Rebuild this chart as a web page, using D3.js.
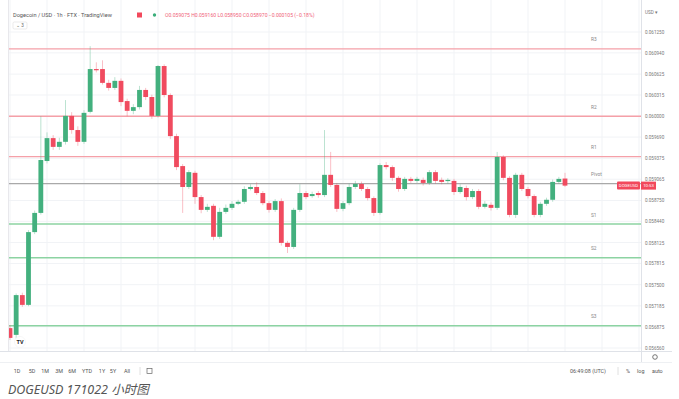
<!DOCTYPE html>
<html>
<head>
<meta charset="utf-8">
<script src="https://cdn.jsdelivr.net/npm/d3@7"></script>
<style>
body { margin: 0; background: #fff; }
svg { display: block; font-family: Roboto, "Open Sans", sans-serif; }
</style>
</head>
<body>
<script>
// 1時間足 DOGEUSD (2022-10-13 12:00 UTC から)
var startTime = Date.UTC(2022, 9, 13, 12);

var open = [
0.056855,0.056755,0.057345,0.057200,0.058280,0.058565,0.059335,0.059675,0.059545,0.059620,
0.060005,0.059795,0.059620,0.060065,0.060700,0.060700,0.060495,0.060420,0.060525,0.060225,
0.060080,0.060135,0.060390,0.060285,0.060005,0.060745,0.060315,0.059705,0.059260,0.058950,
0.059160,0.058800,0.058610,0.058670,0.058210,0.058580,0.058640,0.058700,0.058730,0.058920,
0.058950,0.058860,0.058710,0.058610,0.058740,0.058120,0.058060,0.058610,0.058860,0.058815,
0.058860,0.058830,0.059130,0.058980,0.058625,0.058710,0.058950,0.058995,0.058920,0.058785,
0.058565,0.059275,0.059245,0.059085,0.058920,0.059070,0.059040,0.059055,0.059010,0.059170,
0.059055,0.059040,0.059040,0.058875,0.058935,0.058800,0.058890,0.058655,0.058685,0.058640,
0.059395,0.059085,0.058535,0.059130,0.058920,0.058815,0.058535,0.058700,0.058760,0.059025,
0.059075];
var high = [
0.056900,0.057370,0.057380,0.058310,0.058600,0.060000,0.059760,0.059720,0.059680,0.060240,
0.060060,0.059850,0.060090,0.061040,0.060800,0.060830,0.060540,0.060580,0.060560,0.060260,
0.060180,0.060450,0.060420,0.060320,0.060760,0.060770,0.060340,0.059740,0.059290,0.059200,
0.059190,0.058830,0.058700,0.058700,0.058640,0.058690,0.058740,0.058760,0.058960,0.058990,
0.059020,0.058890,0.058740,0.058770,0.058780,0.058150,0.058640,0.058990,0.058890,0.058880,
0.058890,0.059795,0.059470,0.059010,0.058740,0.059000,0.059040,0.059030,0.058950,0.058810,
0.059300,0.059320,0.059270,0.059110,0.059100,0.059100,0.059100,0.059090,0.059200,0.059200,
0.059090,0.059080,0.059070,0.058990,0.058970,0.058920,0.058920,0.058740,0.058720,0.059470,
0.059420,0.059110,0.059160,0.059160,0.058950,0.058840,0.058730,0.058790,0.059060,0.059100,
0.059160];
var low = [
0.056680,0.056700,0.057170,0.057180,0.058250,0.058540,0.059300,0.059500,0.059500,0.059580,
0.059740,0.059560,0.059590,0.060040,0.060650,0.060470,0.060380,0.060390,0.060150,0.060000,
0.060030,0.060100,0.060240,0.059960,0.059980,0.060280,0.059660,0.059200,0.058565,0.058920,
0.058700,0.058560,0.058580,0.058160,0.058180,0.058550,0.058610,0.058680,0.058700,0.058900,
0.058830,0.058680,0.058570,0.058580,0.058080,0.057970,0.058030,0.058580,0.058770,0.058790,
0.058790,0.058800,0.058950,0.058580,0.058590,0.058680,0.058920,0.058890,0.058750,0.058520,
0.058540,0.059210,0.059040,0.058880,0.058890,0.059010,0.059010,0.058970,0.058980,0.059000,
0.058990,0.059000,0.058830,0.058850,0.058750,0.058770,0.058620,0.058630,0.058600,0.058610,
0.059050,0.058500,0.058490,0.058890,0.058780,0.058500,0.058500,0.058670,0.058730,0.059000,
0.058950];
var close = [
0.056710,0.057345,0.057200,0.058280,0.058565,0.059350,0.059675,0.059545,0.059620,0.060005,
0.059795,0.059620,0.060050,0.060700,0.060690,0.060495,0.060420,0.060525,0.060210,0.060080,
0.060135,0.060390,0.060285,0.060005,0.060745,0.060315,0.059705,0.059245,0.058950,0.059170,
0.058800,0.058610,0.058655,0.058210,0.058580,0.058640,0.058700,0.058730,0.058920,0.058950,
0.058860,0.058710,0.058610,0.058740,0.058120,0.058060,0.058610,0.058860,0.058800,0.058845,
0.058830,0.059130,0.058980,0.058625,0.058710,0.058950,0.058995,0.058920,0.058785,0.058565,
0.059275,0.059245,0.059085,0.058920,0.059070,0.059040,0.059070,0.059010,0.059170,0.059040,
0.059025,0.059055,0.058875,0.058950,0.058800,0.058890,0.058655,0.058700,0.058640,0.059395,
0.059085,0.058535,0.059130,0.058920,0.058815,0.058535,0.058700,0.058760,0.059025,0.059070,
0.058970];

// ピボットライン
var pivotNames  = ["R3", "R2", "R1", "Pivot", "S1", "S2", "S3"];
var pivotValues = [0.06100, 0.06000, 0.05940, 0.05900, 0.05840, 0.05790, 0.05689];

// 軸ラベル
var yTickLabels = ["0.061250","0.060940","0.060625","0.060315","0.060000","0.059690","0.059375","0.059065",
                   "0.058750","0.058440","0.058125","0.057815","0.057500","0.057185","0.056875","0.056560"];
var xTickLabels = ["12:00","18:00","14","06:00","12:00","18:00","15","06:00","12:00",
                   "18:00","16","06:00","12:00","18:00","17","06:00","12:00","18:00"];
var rangeButtons = ["1D","5D","1M","3M","6M","YTD","1Y","5Y","All"];

var W = 679, H = 399;
var plotL = 9, plotR = 641, plotT = 0, plotB = 351;
var upColor = "#43b07e", downColor = "#f04b5f";
var hour = 3600 * 1000;

var svg = d3.select("body").append("svg").attr("width", W).attr("height", H);

var x = d3.scaleTime()
	.domain([new Date(startTime), new Date(startTime + 84 * hour)])
	.range([10, 528]);
var y = d3.scaleLinear()
	.domain([0.05656, 0.06125])
	.range([348, 32]);

var candles = open.map(function(o, i){
	return { t: new Date(startTime + i * hour), o: o, h: high[i], l: low[i], c: close[i] };
});
var xTicks = xTickLabels.map(function(d, i){ return new Date(startTime + i * 6 * hour); });
var yTicks = yTickLabels.map(function(d){ return +d; });

svg.append("clipPath").attr("id", "plot-clip")
	.append("rect").attr("x", plotL).attr("y", plotT).attr("width", plotR - plotL).attr("height", plotB - plotT);

var plot = svg.append("g").attr("clip-path", "url(#plot-clip)");

// グリッド
plot.selectAll(".vgrid").data(xTicks).enter().append("line")
	.attr("x1", function(d){ return x(d); }).attr("x2", function(d){ return x(d); })
	.attr("y1", plotT).attr("y2", plotB)
	.attr("stroke", "#f1f3f6").attr("stroke-width", 1);
plot.selectAll(".hgrid").data(yTicks).enter().append("line")
	.attr("x1", plotL).attr("x2", plotR)
	.attr("y1", function(d){ return y(d); }).attr("y2", function(d){ return y(d); })
	.attr("stroke", "#f1f3f6").attr("stroke-width", 1);

// ピボットライン
plot.selectAll(".pivot").data(pivotValues).enter().append("line")
	.attr("x1", plotL).attr("x2", plotR)
	.attr("y1", function(d){ return y(d); }).attr("y2", function(d){ return y(d); })
	.attr("stroke", function(d, i){ return i < 3 ? "#f5a0a8" : (i === 3 ? "#a9a9a9" : "#8cd3a2"); })
	.attr("stroke-width", 1.4);

// ローソク足
var bodyW = 4.8;
var cg = plot.selectAll(".candle").data(candles).enter().append("g");
cg.append("line")
	.attr("x1", function(d){ return x(d.t); }).attr("x2", function(d){ return x(d.t); })
	.attr("y1", function(d){ return y(d.h); }).attr("y2", function(d){ return y(d.l); })
	.attr("stroke", function(d){ return d.c >= d.o ? upColor : downColor; })
	.attr("stroke-opacity", 0.45).attr("stroke-width", 0.8);
cg.append("rect")
	.attr("x", function(d){ return x(d.t) - bodyW / 2; })
	.attr("width", bodyW)
	.attr("y", function(d){ return y(Math.max(d.o, d.c)); })
	.attr("height", function(d){ return Math.max(1.2, Math.abs(y(d.o) - y(d.c))); })
	.attr("fill", function(d){ return d.c >= d.o ? upColor : downColor; });

// ピボットのラベル
svg.selectAll(".plabel").data(pivotValues).enter().append("text")
	.attr("x", 591).attr("y", function(d){ return y(d) - 7.5; })
	.attr("font-size", 4.8).attr("fill", "#888")
	.text(function(d, i){ return pivotNames[i]; });

// 枠線
svg.append("line").attr("x1", plotL - 0.5).attr("x2", plotL - 0.5).attr("y1", 0).attr("y2", plotB)
	.attr("stroke", "#e8e8ec");
svg.append("line").attr("x1", plotR + 0.5).attr("x2", plotR + 0.5).attr("y1", 0).attr("y2", 362)
	.attr("stroke", "#dfe2e8");
svg.append("line").attr("x1", 0).attr("x2", 672).attr("y1", plotB + 0.5).attr("y2", plotB + 0.5)
	.attr("stroke", "#dfe2e8");
svg.append("line").attr("x1", 0).attr("x2", 672).attr("y1", 362.5).attr("y2", 362.5)
	.attr("stroke", "#eef0f3");

// Y軸
var yAxis = d3.axisRight(y).tickValues(yTicks).tickSize(0).tickPadding(4)
	.tickFormat(function(d, i){ return yTickLabels[i]; });
var yg = svg.append("g").attr("transform", "translate(" + plotR + ",0)").call(yAxis);
yg.select(".domain").remove();
yg.selectAll("text").attr("font-size", 4.6).attr("fill", "#777").attr("font-family", "Roboto, sans-serif");
svg.append("text").attr("x", 645).attr("y", 14).attr("font-size", 4.6).attr("fill", "#777").text("USD ▾");

// X軸
svg.append("clipPath").attr("id", "xaxis-clip")
	.append("rect").attr("x", 8).attr("y", plotB).attr("width", plotR - 8).attr("height", 12);
var xAxis = d3.axisBottom(x).tickValues(xTicks).tickSize(0).tickPadding(3)
	.tickFormat(function(d, i){ return xTickLabels[i]; });
var xg = svg.append("g").attr("transform", "translate(0," + plotB + ")")
	.attr("clip-path", "url(#xaxis-clip)").call(xAxis);
xg.select(".domain").remove();
xg.selectAll("text").attr("font-size", 4.6).attr("fill", "#777").attr("font-family", "Roboto, sans-serif");

// 現在値タグ
var lastY = y(close[close.length - 1]);
svg.append("rect").attr("x", 617).attr("y", lastY - 4).attr("width", 23).attr("height", 8)
	.attr("rx", 1).attr("fill", "#f2495c");
svg.append("text").attr("x", 628.5).attr("y", lastY + 1.6).attr("text-anchor", "middle")
	.attr("font-size", 4.3).attr("fill", "#fff").text("DOGEUSD");
svg.append("rect").attr("x", 641).attr("y", lastY - 4).attr("width", 15).attr("height", 8)
	.attr("fill", "#f2495c");
svg.append("text").attr("x", 648.5).attr("y", lastY + 1.6).attr("text-anchor", "middle")
	.attr("font-size", 4.3).attr("fill", "#fff").text("10:53");

// ヘッダー
svg.append("text").attr("x", 13).attr("y", 17).attr("font-size", 5.6).attr("fill", "#555")
	.text("Dogecoin / USD · 1h · FTX · TradingView");
svg.append("rect").attr("x", 137).attr("y", 12.5).attr("width", 5).attr("height", 5).attr("fill", "#f2495c");
svg.append("circle").attr("cx", 154.5).attr("cy", 15).attr("r", 1.7).attr("fill", "#3aae7a");
svg.append("text").attr("x", 165).attr("y", 17).attr("font-size", 5.1).attr("fill", "#f0637a")
	.text("O0.059075 H0.059160 L0.058950 C0.058970 −0.000105 (−0.18%)");
svg.append("rect").attr("x", 13).attr("y", 22).attr("width", 14).attr("height", 7)
	.attr("rx", 1.5).attr("fill", "#fff").attr("stroke", "#ddd").attr("stroke-width", 0.6);
svg.append("text").attr("x", 20).attr("y", 27.3).attr("text-anchor", "middle")
	.attr("font-size", 4.6).attr("fill", "#666").text("⌄ 3");

// TVロゴ
svg.append("circle").attr("cx", 20).attr("cy", 342).attr("r", 5.5)
	.attr("fill", "#fff").attr("stroke", "#eeeeee").attr("stroke-width", 0.5);
svg.append("text").attr("x", 20).attr("y", 344.2).attr("text-anchor", "middle")
	.attr("font-size", 5.5).attr("font-weight", "bold").attr("fill", "#222").text("TV");

// 歯車
svg.append("circle").attr("cx", 655).attr("cy", 357).attr("r", 2.3)
	.attr("fill", "none").attr("stroke", "#555").attr("stroke-width", 0.8);

// 期間ボタン
var btnX = [17, 32, 45, 59, 72, 87, 102, 113, 127];
svg.selectAll(".btn").data(rangeButtons).enter().append("text")
	.attr("x", function(d, i){ return btnX[i]; }).attr("y", 373)
	.attr("text-anchor", "middle").attr("font-size", 5.4).attr("fill", "#555")
	.text(function(d){ return d; });
svg.append("line").attr("x1", 140).attr("x2", 140).attr("y1", 367).attr("y2", 375).attr("stroke", "#e0e0e0");
svg.append("rect").attr("x", 147).attr("y", 368.5).attr("width", 5).attr("height", 5)
	.attr("fill", "none").attr("stroke", "#666").attr("stroke-width", 0.7);

svg.append("text").attr("x", 570).attr("y", 373).attr("font-size", 5.4).attr("fill", "#555")
	.text("06:49:08 (UTC)");
svg.append("line").attr("x1", 618).attr("x2", 618).attr("y1", 367).attr("y2", 375).attr("stroke", "#e0e0e0");
svg.append("text").attr("x", 626).attr("y", 373).attr("font-size", 5.4).attr("fill", "#555").text("%");
svg.append("text").attr("x", 637).attr("y", 373).attr("font-size", 5.4).attr("fill", "#555").text("log");
svg.append("text").attr("x", 652).attr("y", 373).attr("font-size", 5.4).attr("fill", "#555").text("auto");

// キャプション
svg.append("text").attr("x", 8).attr("y", 394)
	.attr("font-size", 12.5).attr("font-style", "italic").attr("fill", "#555")
	.attr("font-family", "'Noto Sans', 'Noto Sans CJK SC', sans-serif")
	.text("DOGEUSD 171022 小时图");
</script>
</body>
</html>
